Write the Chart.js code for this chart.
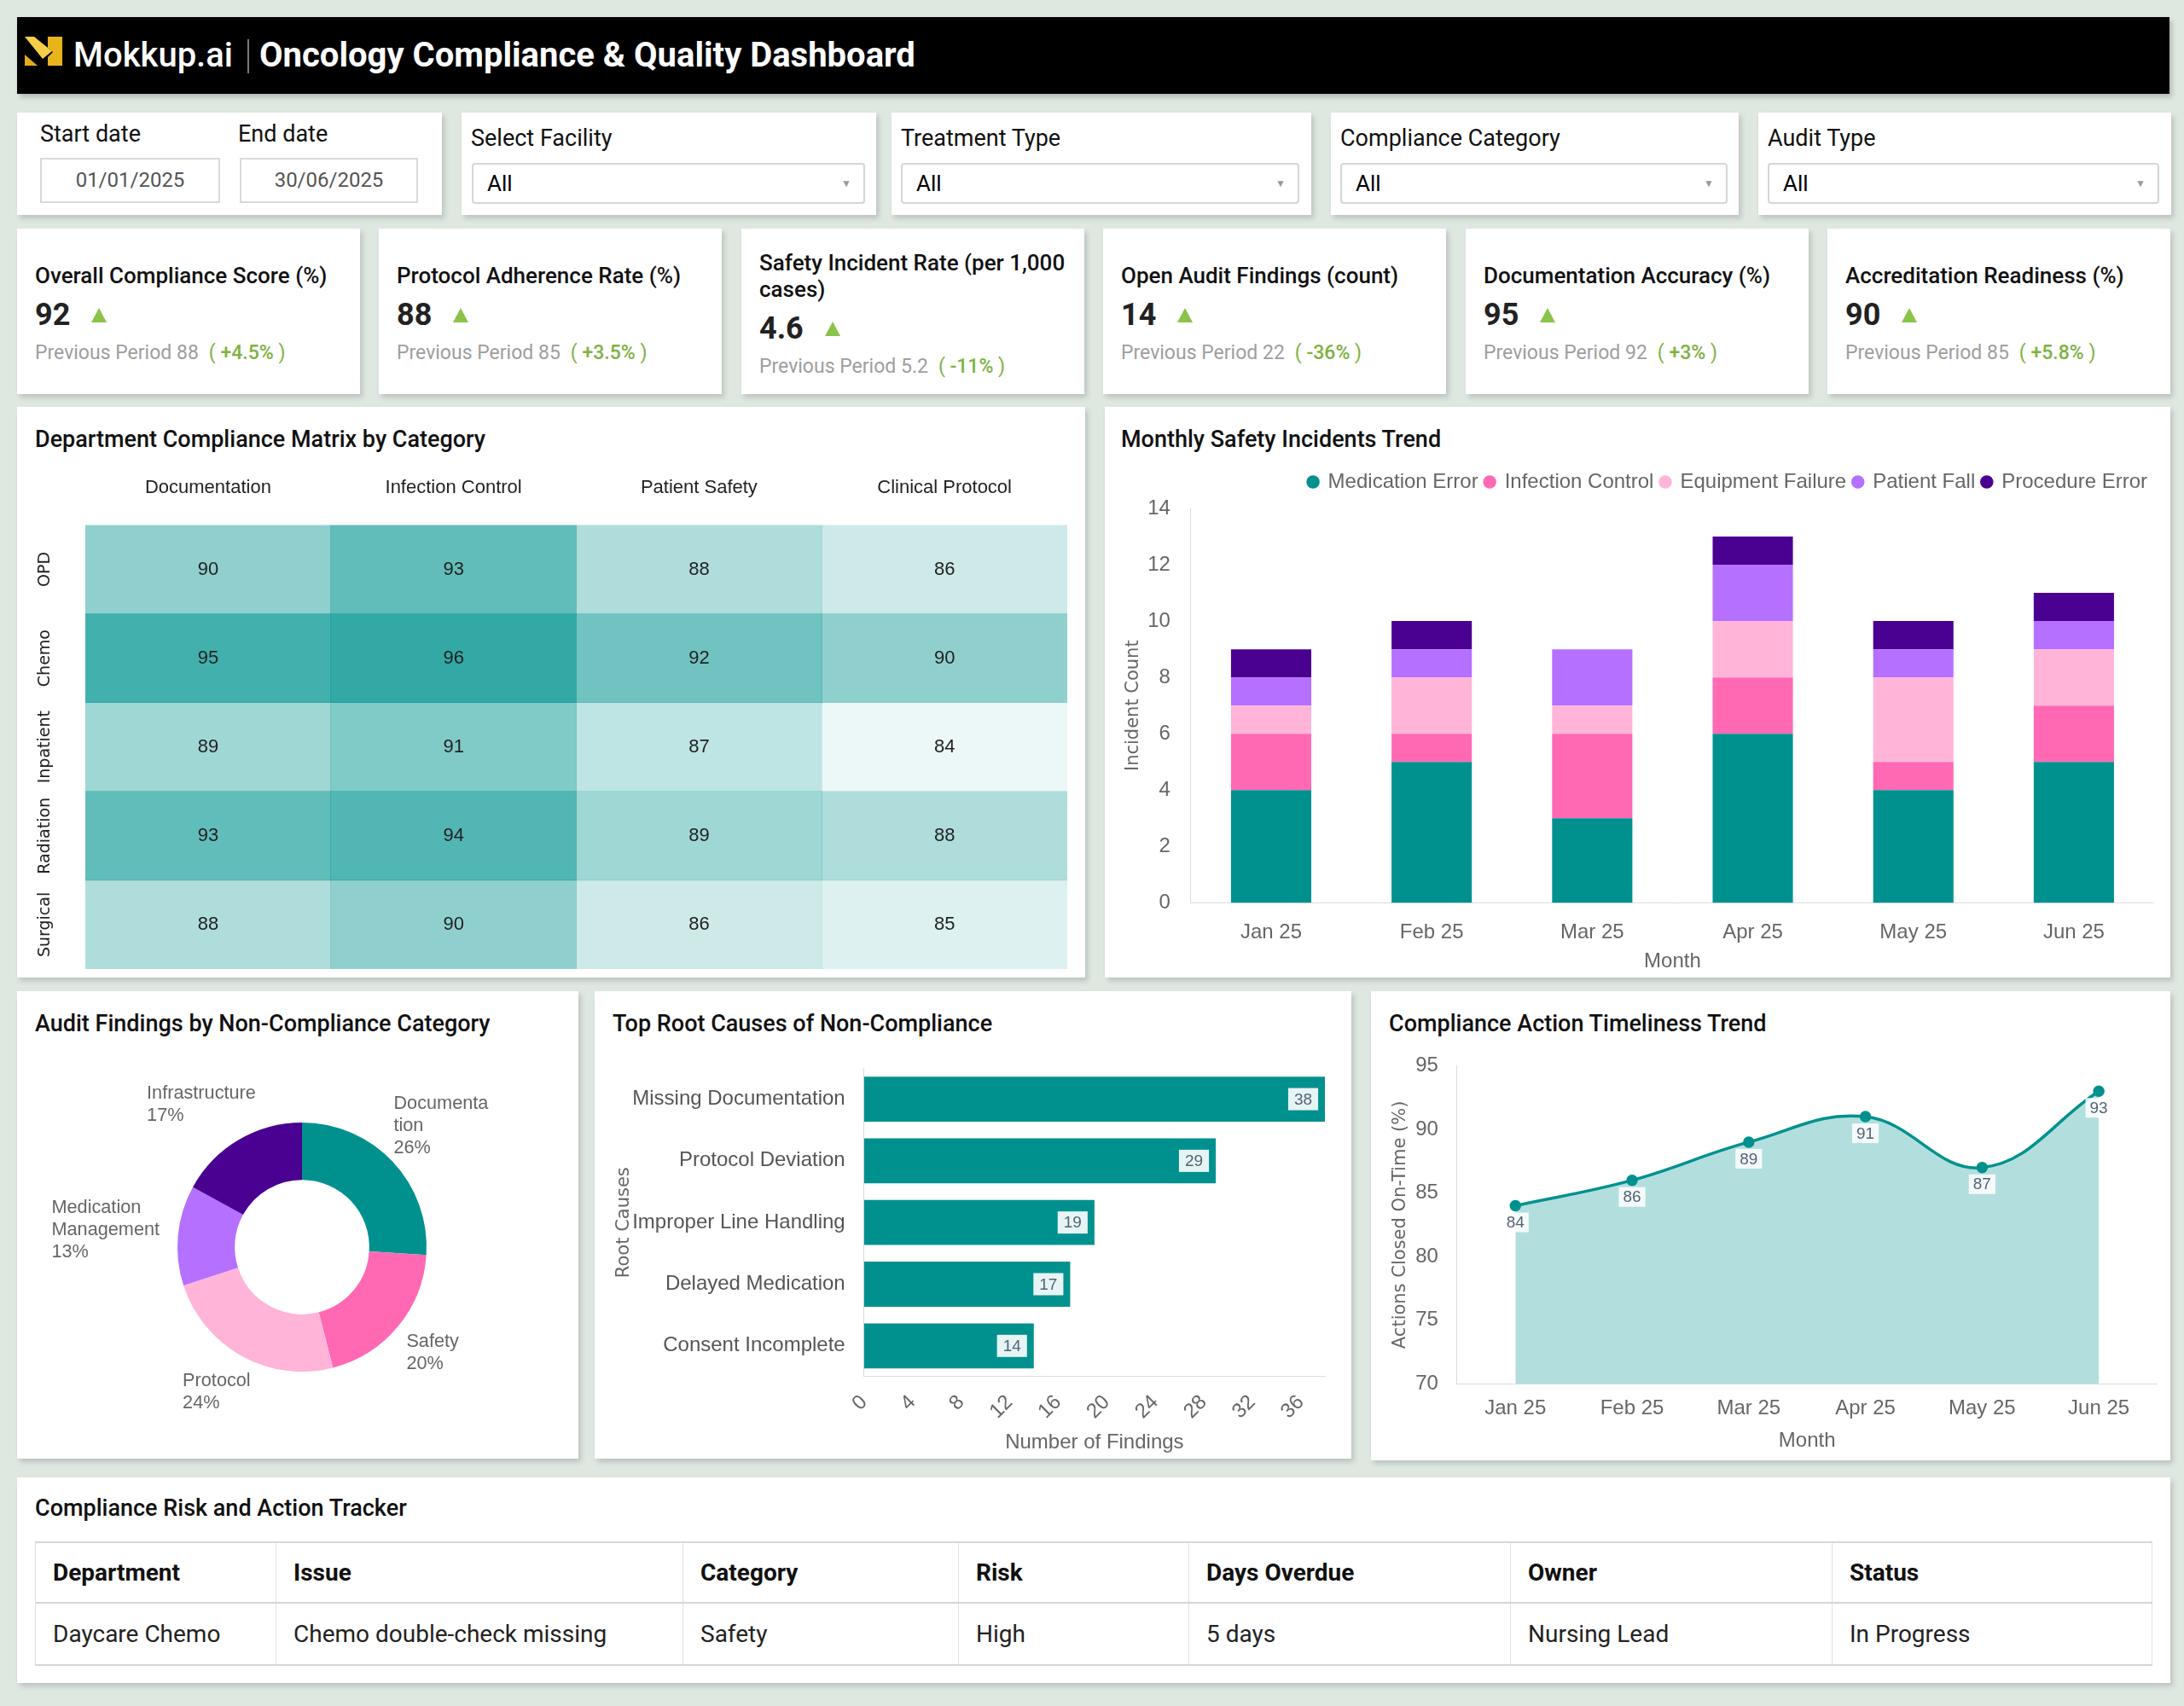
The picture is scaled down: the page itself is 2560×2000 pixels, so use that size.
<!DOCTYPE html>
<html>
<head>
<meta charset="utf-8">
<script src="https://cdn.jsdelivr.net/npm/chart.js@4.4.1/dist/chart.umd.min.js"></script>
<style>
  body { margin: 0; width: 2560px; height: 2000px; background: #dee8e1; position: relative; overflow: hidden; font-family: Roboto, sans-serif; color: #111; }
  .card { position: absolute; background: #fff; box-shadow: 3px 4px 6px rgba(0,0,0,0.16); }
  .title { position: absolute; left: 21px; font-size: 27px; line-height: 32px; font-weight: 500; color: #111; white-space: nowrap; }
  .header { position: absolute; left: 20px; top: 20px; width: 2523px; height: 90px; background: #000; box-shadow: 3px 4px 6px rgba(0,0,0,0.2); }
  .header .logo { position: absolute; left: 9px; top: 23px; }
  .header .brand { position: absolute; left: 66px; top: 22px; font-size: 40px; line-height: 46px; font-weight: 500; color: #fff; }
  .header .sep { position: absolute; left: 270px; top: 26px; width: 2px; height: 40px; background: #777; }
  .header .name { position: absolute; left: 284px; top: 22px; font-size: 40px; line-height: 46px; font-weight: 700; color: #fff; white-space: nowrap; }
  .flabel { position: absolute; font-size: 27px; line-height: 32px; color: #111; white-space: nowrap; }
  .datebox { position: absolute; border: 2px solid #d9d9d9; box-sizing: border-box; height: 53px; font-size: 24px; line-height: 49px; text-align: center; color: #555; }
  .select { position: absolute; border: 2px solid #d6d6d6; border-radius: 4px; box-sizing: border-box; height: 48px; font-size: 26px; line-height: 44px; padding-left: 16px; color: #000; }
  .select .arrow { position: absolute; right: 14px; top: 0; font-size: 12px; color: #999; }
  .kpi { position: absolute; top: 268px; width: 402px; height: 194px; padding: 6px 16px 0 21px; box-sizing: border-box; display: flex; flex-direction: column; justify-content: center; }
  .kpi .kt { font-size: 26px; line-height: 31px; font-weight: 500; color: #111; }
  .kpi .kv { font-size: 36px; line-height: 60px; font-weight: 700; color: #222; }
  .kpi .kv i { display: inline-block; width: 0; height: 0; border-left: 9px solid transparent; border-right: 9px solid transparent; border-bottom: 17px solid #8bc34a; margin-left: 25px; vertical-align: 3px; }
  .kpi .kp { font-size: 23px; line-height: 29px; color: #9e9e9e; white-space: nowrap; }
  .kpi .kp .chg { color: #7cb342; margin-left: 12px; }
  .kpi .kp .chg b { font-weight: 500; }
  .chartbox { position: absolute; }
  table { position: absolute; left: 21px; top: 75px; width: 2481px; border-collapse: collapse; table-layout: fixed; }
  th, td { border-left: 1px solid #e0e0e0; border-right: 1px solid #e0e0e0; border-top: 2px solid #d6d6d6; border-bottom: 2px solid #d6d6d6; text-align: left; padding: 0 0 0 20px; font-size: 28px; white-space: nowrap; }
  th { height: 69px; font-weight: 700; color: #111; }
  td { height: 71px; color: #222; }
</style>
</head>
<body>

<div class="header">
  <svg class="logo" width="44" height="34" viewBox="0 0 44 34">
    <polygon points="0,21 15,34 0,34" fill="#e4ad18"/>
    <polygon points="0,0 11,0 32,17 21,26" fill="#f4cf47"/>
    <polygon points="27,0 44,0 44,34 27,34 27,24 33,18 27,13" fill="#e8b41c"/>
  </svg>
  <div class="brand">Mokkup.ai</div>
  <div class="sep"></div>
  <div class="name">Oncology Compliance &amp; Quality Dashboard</div>
</div>

<!-- filters -->
<div class="card" style="left:20px;top:132px;width:498px;height:120px;">
  <div class="flabel" style="left:27px;top:9px;">Start date</div>
  <div class="flabel" style="left:259px;top:9px;">End date</div>
  <div class="datebox" style="left:27px;top:53px;width:211px;">01/01/2025</div>
  <div class="datebox" style="left:261px;top:53px;width:209px;">30/06/2025</div>
</div>
<div class="card" style="left:541px;top:132px;width:486px;height:120px;">
  <div class="flabel" style="left:11px;top:14px;">Select Facility</div>
  <div class="select" style="left:12px;top:59px;width:461px;">All<span class="arrow">&#9660;</span></div>
</div>
<div class="card" style="left:1045px;top:132px;width:492px;height:120px;">
  <div class="flabel" style="left:11px;top:14px;">Treatment Type</div>
  <div class="select" style="left:11px;top:59px;width:467px;">All<span class="arrow">&#9660;</span></div>
</div>
<div class="card" style="left:1560px;top:132px;width:478px;height:120px;">
  <div class="flabel" style="left:11px;top:14px;">Compliance Category</div>
  <div class="select" style="left:11px;top:59px;width:454px;">All<span class="arrow">&#9660;</span></div>
</div>
<div class="card" style="left:2061px;top:132px;width:484px;height:120px;">
  <div class="flabel" style="left:11px;top:14px;">Audit Type</div>
  <div class="select" style="left:11px;top:59px;width:459px;">All<span class="arrow">&#9660;</span></div>
</div>

<!-- KPIs -->
<div class="card kpi" style="left:20px;"><div class="kt">Overall Compliance Score (%)</div><div class="kv">92<i></i></div><div class="kp">Previous Period 88<span class="chg">( <b>+4.5%</b> )</span></div></div>
<div class="card kpi" style="left:444px;"><div class="kt">Protocol Adherence Rate (%)</div><div class="kv">88<i></i></div><div class="kp">Previous Period 85<span class="chg">( <b>+3.5%</b> )</span></div></div>
<div class="card kpi" style="left:869px;"><div class="kt">Safety Incident Rate (per 1,000 cases)</div><div class="kv">4.6<i></i></div><div class="kp">Previous Period 5.2<span class="chg">( <b>-11%</b> )</span></div></div>
<div class="card kpi" style="left:1293px;"><div class="kt">Open Audit Findings (count)</div><div class="kv">14<i></i></div><div class="kp">Previous Period 22<span class="chg">( <b>-36%</b> )</span></div></div>
<div class="card kpi" style="left:1718px;"><div class="kt">Documentation Accuracy (%)</div><div class="kv">95<i></i></div><div class="kp">Previous Period 92<span class="chg">( <b>+3%</b> )</span></div></div>
<div class="card kpi" style="left:2142px;"><div class="kt">Accreditation Readiness (%)</div><div class="kv">90<i></i></div><div class="kp">Previous Period 85<span class="chg">( <b>+5.8%</b> )</span></div></div>

<!-- chart cards -->
<div class="card" style="left:20px;top:477px;width:1252px;height:669px;"><div class="title" style="top:22px;">Department Compliance Matrix by Category</div></div>
<div class="card" style="left:1295px;top:477px;width:1249px;height:669px;"><div class="title" style="top:22px;left:19px;">Monthly Safety Incidents Trend</div></div>
<div class="card" style="left:20px;top:1162px;width:658px;height:548px;"><div class="title" style="top:22px;">Audit Findings by Non-Compliance Category</div></div>
<div class="card" style="left:697px;top:1162px;width:887px;height:548px;"><div class="title" style="top:22px;">Top Root Causes of Non-Compliance</div></div>
<div class="card" style="left:1607px;top:1162px;width:937px;height:550px;"><div class="title" style="top:22px;">Compliance Action Timeliness Trend</div></div>

<div class="chartbox" style="left:38px;top:529px;width:1213px;height:607px;"><canvas id="heatChart"></canvas></div>
<div class="chartbox" style="left:1312px;top:545px;width:1213px;height:597px;"><canvas id="incidentChart"></canvas></div>
<div class="chartbox" style="left:40px;top:1240px;width:628px;height:444px;"><canvas id="findingChart"></canvas></div>
<div class="chartbox" style="left:719px;top:1216px;width:842px;height:490px;"><canvas id="rootChart"></canvas></div>
<div class="chartbox" style="left:1625px;top:1213px;width:912px;height:491px;"><canvas id="timelyChart"></canvas></div>

<!-- table -->
<div class="card" style="left:20px;top:1732px;width:2524px;height:241px;">
  <div class="title" style="top:20px;">Compliance Risk and Action Tracker</div>
  <table>
    <colgroup><col style="width:282px"><col style="width:477px"><col style="width:323px"><col style="width:270px"><col style="width:377px"><col style="width:377px"><col style="width:375px"></colgroup>
    <tr><th>Department</th><th>Issue</th><th>Category</th><th>Risk</th><th>Days Overdue</th><th>Owner</th><th>Status</th></tr>
    <tr><td>Daycare Chemo</td><td>Chemo double-check missing</td><td>Safety</td><td>High</td><td>5 days</td><td>Nursing Lead</td><td>In Progress</td></tr>
  </table>
</div>

<script>
// heatmap
const matrixDepartments = ['OPD', 'Chemo', 'Inpatient', 'Radiation', 'Surgical'];
const matrixCategories = ['Documentation', 'Infection Control', 'Patient Safety', 'Clinical Protocol'];
const opdScores = [90, 93, 88, 86];
const chemoScores = [95, 96, 92, 90];
const inpatientScores = [89, 91, 87, 84];
const radiationScores = [93, 94, 89, 88];
const surgicalScores = [88, 90, 86, 85];

// monthly incidents
const months = ['Jan 25', 'Feb 25', 'Mar 25', 'Apr 25', 'May 25', 'Jun 25'];
const medicationError = [4, 5, 3, 6, 4, 5];
const infectionControl = [2, 1, 3, 2, 1, 2];
const equipmentFailure = [1, 2, 1, 2, 3, 2];
const patientFall = [1, 1, 2, 2, 1, 1];
const procedureError = [1, 1, 0, 1, 1, 1];

// audit findings donut
const findingCategories = ['Documentation', 'Safety', 'Protocol', 'Medication Management', 'Infrastructure'];
const findingLabelLines = [['Documenta', 'tion'], ['Safety'], ['Protocol'], ['Medication', 'Management'], ['Infrastructure']];
const findingShares = [26, 20, 24, 13, 17];

// root causes
const rootCauses = ['Missing Documentation', 'Protocol Deviation', 'Improper Line Handling', 'Delayed Medication', 'Consent Incomplete'];
const rootCauseCounts = [38, 29, 19, 17, 14];

// timeliness
const onTimeRate = [84, 86, 89, 91, 87, 93];

const teal = '#00918f';
const hotPink = '#ff69b4';
const lightPink = '#ffb4d8';
const purple = '#b570ff';
const indigo = '#4a0091';

Chart.defaults.font.family = "'Liberation Sans', Arial, sans-serif";
Chart.defaults.font.size = 24;
Chart.defaults.color = '#666';
Chart.defaults.animation = false;
Chart.defaults.maintainAspectRatio = false;
Chart.defaults.plugins.tooltip.enabled = false;
const axisTitleFont = { family: "'DejaVu Sans', sans-serif", size: 21 };
const noGrid = { display: false, drawTicks: false };

// ---------- heatmap ----------
const matrixRows = [opdScores, chemoScores, inpatientScores, radiationScores, surgicalScores];
const allScores = matrixRows.flat();
const minScore = Math.min(...allScores), maxScore = Math.max(...allScores);
function cellColor(v) {
  const t = (v - minScore) / (maxScore - minScore);
  return 'rgba(0,148,144,' + (0.075 + t * 0.725).toFixed(3) + ')';
}

const heatLabels = {
  id: 'heatLabels',
  afterDatasetsDraw(chart) {
    const ctx = chart.ctx;
    ctx.save();
    ctx.textAlign = 'center';
    ctx.textBaseline = 'middle';
    chart.data.datasets.forEach((ds, i) => {
      ctx.font = "22px 'Liberation Sans', Arial, sans-serif";
      ctx.fillStyle = '#222';
      chart.getDatasetMeta(i).data.forEach((bar, j) => {
        ctx.fillText(ds.scores[j], bar.x, (bar.y + bar.base) / 2);
      });
      const y = chart.scales.y.getPixelForValue(i + 0.5);
      ctx.save();
      ctx.translate(chart.chartArea.left - 47, y);
      ctx.rotate(-Math.PI / 2);
      ctx.font = "19px 'DejaVu Sans', sans-serif";
      ctx.fillText(ds.label, 0, 0);
      ctx.restore();
    });
    ctx.restore();
  }
};

new Chart(document.getElementById('heatChart'), {
  type: 'bar',
  data: {
    labels: matrixCategories,
    datasets: matrixRows.map((row, i) => ({
      label: matrixDepartments[i],
      data: row.map(() => 1),
      scores: row,
      backgroundColor: row.map(cellColor),
      borderWidth: 0,
      barPercentage: 1,
      categoryPercentage: 1
    }))
  },
  options: {
    layout: { padding: { left: 62 } },
    plugins: { legend: { display: false } },
    scales: {
      x: { position: 'top', stacked: true, grid: noGrid, border: { display: false },
           ticks: { padding: 30, color: '#222', font: { size: 22 } } },
      y: { stacked: true, reverse: true, min: 0, max: matrixRows.length, display: false }
    }
  },
  plugins: [heatLabels]
});

// ---------- stacked incidents ----------
const legendGap = {
  id: 'legendGap',
  beforeInit(chart) {
    const fit = chart.legend.fit;
    chart.legend.fit = function () {
      fit.bind(chart.legend)();
      this.height += 9;
    };
  }
};

new Chart(document.getElementById('incidentChart'), {
  type: 'bar',
  data: {
    labels: months,
    datasets: [
      { label: 'Medication Error', data: medicationError, backgroundColor: teal },
      { label: 'Infection Control', data: infectionControl, backgroundColor: hotPink },
      { label: 'Equipment Failure', data: equipmentFailure, backgroundColor: lightPink },
      { label: 'Patient Fall', data: patientFall, backgroundColor: purple },
      { label: 'Procedure Error', data: procedureError, backgroundColor: indigo }
    ]
  },
  options: {
    datasets: { bar: { barPercentage: 0.5, categoryPercentage: 1, borderWidth: 0 } },
    plugins: {
      legend: { position: 'top', align: 'end',
                labels: { usePointStyle: true, pointStyle: 'circle', boxWidth: 11, boxHeight: 11, padding: 8, color: '#666' } }
    },
    scales: {
      x: { stacked: true, grid: noGrid, border: { color: '#ddd' }, ticks: { padding: 21 },
           title: { display: true, text: 'Month', padding: { top: -16, bottom: 0 } } },
      y: { stacked: true, min: 0, max: 14, grid: noGrid, border: { color: '#ddd' }, ticks: { stepSize: 2, padding: 24 },
           title: { display: true, text: 'Incident Count', font: axisTitleFont, padding: { top: 4, bottom: -20 } } }
    }
  },
  plugins: [legendGap]
});

// ---------- donut ----------
const donutLabels = {
  id: 'donutLabels',
  afterDraw(chart) {
    const ctx = chart.ctx;
    const ds = chart.data.datasets[0];
    const total = ds.data.reduce((a, b) => a + b, 0);
    const lh = 26;
    ctx.save();
    ctx.font = "21.7px 'Liberation Sans', Arial, sans-serif";
    ctx.fillStyle = '#666';
    ctx.textAlign = 'left';
    ctx.textBaseline = 'middle';
    chart.getDatasetMeta(0).data.forEach((arc, i) => {
      const mid = (arc.startAngle + arc.endAngle) / 2;
      const r = arc.outerRadius + 22;
      const ax = arc.x + Math.cos(mid) * r;
      const ay = arc.y + Math.sin(mid) * r;
      const lines = findingLabelLines[i].concat([Math.round(ds.data[i] / total * 100) + '%']);
      const w = Math.max(...lines.map(l => ctx.measureText(l).width));
      const h = lines.length * lh;
      const left = ax - (1 - Math.cos(mid)) / 2 * w;
      const top = ay - (1 - Math.sin(mid)) / 2 * h;
      lines.forEach((l, k) => ctx.fillText(l, left, top + lh * (k + 0.5)));
    });
    ctx.restore();
  }
};

new Chart(document.getElementById('findingChart'), {
  type: 'doughnut',
  data: {
    labels: findingCategories,
    datasets: [{ data: findingShares, backgroundColor: [teal, hotPink, lightPink, purple, indigo], borderWidth: 0 }]
  },
  options: {
    cutout: '54%',
    layout: { padding: 76 },
    plugins: { legend: { display: false } }
  },
  plugins: [donutLabels]
});

// ---------- root causes ----------
const barValueLabels = {
  id: 'barValueLabels',
  afterDatasetsDraw(chart) {
    const ctx = chart.ctx;
    ctx.save();
    ctx.font = "19px 'Liberation Sans', Arial, sans-serif";
    ctx.textAlign = 'center';
    ctx.textBaseline = 'middle';
    chart.getDatasetMeta(0).data.forEach((bar, i) => {
      const txt = String(chart.data.datasets[0].data[i]);
      const w = ctx.measureText(txt).width + 14;
      const h = 26;
      const right = bar.x - 8;
      ctx.fillStyle = 'rgba(255,255,255,0.9)';
      ctx.fillRect(right - w, bar.y - h / 2, w, h);
      ctx.fillStyle = '#54627a';
      ctx.fillText(txt, right - w / 2, bar.y + 1);
    });
    ctx.restore();
  }
};

new Chart(document.getElementById('rootChart'), {
  type: 'bar',
  data: {
    labels: rootCauses,
    datasets: [{ data: rootCauseCounts, backgroundColor: teal, borderWidth: 0, barPercentage: 0.73, categoryPercentage: 1 }]
  },
  options: {
    indexAxis: 'y',
    plugins: { legend: { display: false } },
    scales: {
      x: { min: 0, max: Math.max(...rootCauseCounts), bounds: 'data', grid: noGrid, border: { color: '#ddd' },
           ticks: { stepSize: 4, minRotation: 45, maxRotation: 45, padding: 16 },
           afterBuildTicks: (scale) => { scale.ticks = scale.ticks.filter(t => t.value % 4 === 0); },
           title: { display: true, text: 'Number of Findings', padding: { top: -8, bottom: 0 } } },
      y: { grid: noGrid, border: { color: '#ddd' }, ticks: { padding: 22, color: '#555' },
           title: { display: true, text: 'Root Causes', font: axisTitleFont, padding: { top: 0, bottom: -25 } } }
    }
  },
  plugins: [barValueLabels]
});

// ---------- timeliness ----------
const pointLabels = {
  id: 'pointLabels',
  afterDatasetsDraw(chart) {
    const ctx = chart.ctx;
    ctx.save();
    ctx.font = "19px 'Liberation Sans', Arial, sans-serif";
    ctx.textAlign = 'center';
    ctx.textBaseline = 'middle';
    chart.getDatasetMeta(0).data.forEach((pt, i) => {
      const txt = String(chart.data.datasets[0].data[i]);
      const w = ctx.measureText(txt).width + 10;
      const h = 23;
      const top = pt.y + 8;
      ctx.fillStyle = 'rgba(255,255,255,0.85)';
      ctx.fillRect(pt.x - w / 2, top, w, h);
      ctx.fillStyle = '#54627a';
      ctx.fillText(txt, pt.x, top + h / 2 + 1);
    });
    ctx.restore();
  }
};

new Chart(document.getElementById('timelyChart'), {
  type: 'line',
  data: {
    labels: months,
    datasets: [{
      data: onTimeRate,
      borderColor: teal,
      backgroundColor: 'rgba(0,148,144,0.3)',
      fill: 'start',
      tension: 0.4,
      borderWidth: 3.5,
      pointRadius: 5,
      pointBackgroundColor: teal,
      pointBorderColor: teal
    }]
  },
  options: {
    plugins: { legend: { display: false } },
    scales: {
      x: { offset: true, grid: noGrid, border: { color: '#ddd' }, ticks: { padding: 15 },
           title: { display: true, text: 'Month', padding: { top: -6, bottom: 0 } } },
      y: { min: 70, max: 95, grid: noGrid, border: { color: '#ddd' }, ticks: { stepSize: 5, padding: 22 },
           title: { display: true, text: 'Actions Closed On-Time (%)', font: axisTitleFont, padding: { top: 4, bottom: -17 } } }
    }
  },
  plugins: [pointLabels]
});
</script>
</body>
</html>
